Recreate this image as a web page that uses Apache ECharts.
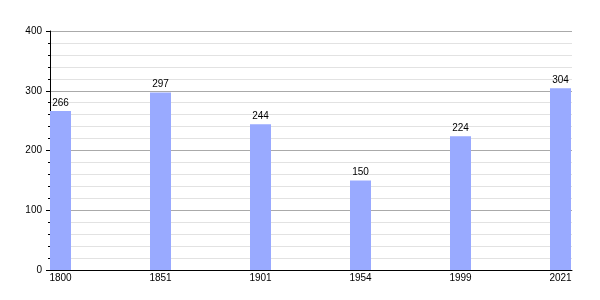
<!DOCTYPE html>
<html><head><meta charset="utf-8">
<script src="https://cdn.jsdelivr.net/npm/echarts@6/dist/echarts.min.js"></script>
<style>html,body{margin:0;padding:0;background:#fff}#c{width:600px;height:300px}</style>
</head><body><div id="c"></div>
<script>
const years = ['1800','1851','1901','1954','1999','2021'];
const population = [266, 297, 244, 150, 224, 304];
const yMin = 0, yMax = 400, yStep = 100;

const font = {fontFamily: 'Liberation Sans, Arial, sans-serif', fontSize: 10, color: '#000'};
const chart = echarts.init(document.getElementById('c'), null, {renderer: 'canvas'});
chart.setOption({
  animation: false,
  grid: [
    {left: 50, right: 28, top: 31, bottom: 30},
    {left: 60.5, right: 39.5, top: 31, bottom: 30}
  ],
  xAxis: [
    {gridIndex: 0, type: 'value', min: 0, max: 1, show: true,
     axisLine: {show: true, onZero: false, lineStyle: {color: '#000', width: 1}},
     axisTick: {show: false}, axisLabel: {show: false}, splitLine: {show: false}},
    {gridIndex: 1, type: 'category', data: years, boundaryGap: false,
     axisLine: {show: false}, axisTick: {show: false},
     axisLabel: Object.assign({margin: 3}, font)}
  ],
  yAxis: [
    {gridIndex: 0, type: 'value', min: yMin, max: yMax, interval: yStep,
     axisLine: {show: true, lineStyle: {color: '#000', width: 1}},
     axisTick: {show: true, length: 4, lineStyle: {color: '#000'}},
     minorTick: {show: true, splitNumber: 5, length: 2, lineStyle: {color: '#000'}},
     axisLabel: Object.assign({margin: 8}, font),
     splitLine: {show: true, lineStyle: {color: '#aaaaaa', width: 1}},
     minorSplitLine: {show: true, lineStyle: {color: '#e2e2e2', width: 1}}},
    {gridIndex: 1, type: 'value', min: yMin, max: yMax, interval: yStep, show: false,
     splitLine: {show: false}}
  ],
  series: [{
    type: 'bar', xAxisIndex: 1, yAxisIndex: 1, data: population,
    barWidth: 21,
    itemStyle: {color: '#99aaff'},
    label: Object.assign({show: true, position: 'top', distance: 3}, font)
  }]
});
</script></body></html>
